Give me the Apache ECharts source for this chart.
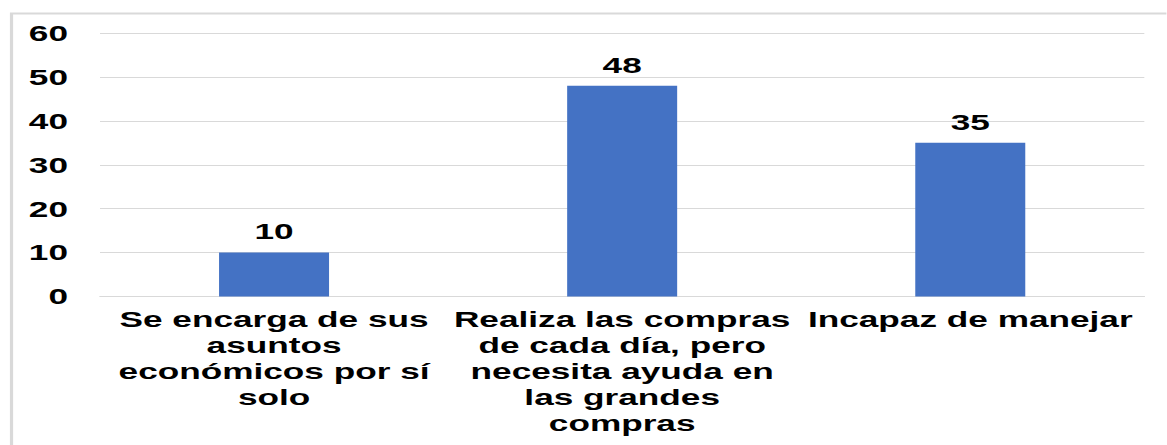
<!DOCTYPE html>
<html>
<head>
<meta charset="utf-8">
<script src="https://cdn.jsdelivr.net/npm/echarts@6/dist/echarts.min.js"></script>
<style>
  html, body { margin: 0; padding: 0; background: #fff; overflow: hidden; }
  #wrap { width: 1167px; height: 445px; overflow: hidden; position: relative; }
  /* the chart is laid out narrow and widened so the bold type reads broad */
  #chart { width: 729.4px; height: 445px; transform: scaleX(1.6); transform-origin: 0 0; }
</style>
</head>
<body>
<div id="wrap"><div id="chart"></div></div>
<script>
const categories = [
  'Se encarga de sus\nasuntos\neconómicos por sí\nsolo',
  'Realiza las compras\nde cada día, pero\nnecesita ayuda en\nlas grandes\ncompras',
  'Incapaz de manejar'
];
const values = [10, 48, 35];
const yTicks = { min: 0, max: 60, interval: 10 };

const FONT = '"Liberation Sans", Arial, sans-serif';
const chart = echarts.init(document.getElementById('chart'), null, { renderer: 'svg' });

chart.setOption({
  backgroundColor: '#fff',
  animation: false,
  graphic: [{
    type: 'rect',
    left: 4.7, top: 11,
    shape: { width: 800, height: 500 },
    style: { fill: 'none', stroke: '#d9d9d9', lineWidth: 2 },
    silent: true
  }],
  grid: { left: 62.5, right: 13.8, top: 33, bottom: 148.5, containLabel: false },
  xAxis: {
    type: 'category',
    data: categories,
    axisLine: { show: true, lineStyle: { color: '#d9d9d9', width: 1 } },
    axisTick: { show: false },
    axisLabel: {
      interval: 0,
      margin: 10,
      color: '#000',
      fontFamily: FONT,
      fontWeight: 'bold',
      fontSize: 22,
      lineHeight: 26,
      align: 'center'
    }
  },
  yAxis: {
    type: 'value',
    min: yTicks.min, max: yTicks.max, interval: yTicks.interval,
    axisLine: { show: false },
    axisTick: { show: false },
    splitLine: { lineStyle: { color: '#d9d9d9', width: 1 } },
    axisLabel: {
      margin: 20,
      color: '#000',
      fontFamily: FONT,
      fontWeight: 'bold',
      fontSize: 22
    }
  },
  series: [{
    type: 'bar',
    data: values,
    barWidth: '31.6%',
    itemStyle: { color: '#4472C4' },
    label: {
      show: true,
      position: 'top',
      distance: 10,
      color: '#000',
      fontFamily: FONT,
      fontWeight: 'bold',
      fontSize: 22
    }
  }]
});
</script>
</body>
</html>
